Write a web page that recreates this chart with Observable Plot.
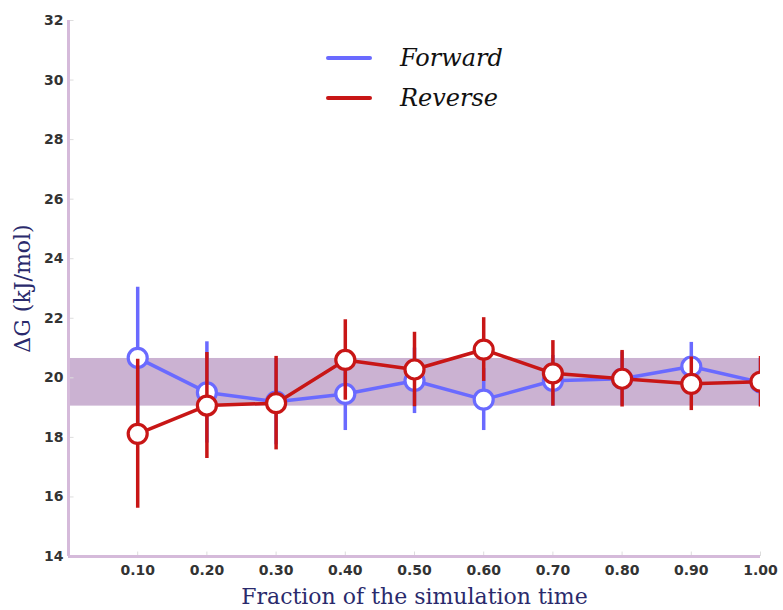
<!DOCTYPE html>
<html>
<head>
<meta charset="utf-8">
<script src="https://cdn.jsdelivr.net/npm/d3@7"></script>
<script src="https://cdn.jsdelivr.net/npm/@observablehq/plot@0.6"></script>
<style>
  html, body { margin: 0; padding: 0; background: #fff; }
  #wrap { position: relative; width: 783px; height: 610px; }
  #legend { position: absolute; left: 326px; top: 38px; font-family: "DejaVu Serif", serif; font-style: italic; font-size: 24px; color: #111; }
  .row { display: flex; align-items: center; height: 40px; }
  .sw { width: 46px; height: 4px; border-radius: 2px; margin-right: 28px; }
</style>
</head>
<body>
<div id="wrap"><div id="legend"></div></div>
<script>
const xs = [0.1, 0.2, 0.3, 0.4, 0.5, 0.6, 0.7, 0.8, 0.9, 1.0];
const fwdMean = [20.67, 19.51, 19.2, 19.46, 19.9, 19.27, 19.9, 19.97, 20.38, 19.85];
const fwdErr  = [2.37, 1.7, 1.45, 1.23, 1.1, 1.04, 0.85, 0.9, 0.81, 0.8];
const revMean = [18.12, 19.07, 19.15, 20.6, 20.28, 20.95, 20.15, 19.97, 19.8, 19.87];
const revErr  = [2.5, 1.78, 1.57, 1.35, 1.25, 1.07, 1.1, 0.95, 0.9, 0.85];
const bandLow = 19.05, bandHigh = 20.65;
const yTicks = [14, 16, 18, 20, 22, 24, 26, 28, 30, 32];
const xDomain = [0, 1.0];
const seriesNames = ["Forward", "Reverse"];
const seriesColors = ["#6a6aff", "#c81616"];

const fwd = xs.map((x, i) => ({x, y: fwdMean[i], lo: fwdMean[i] - fwdErr[i], hi: fwdMean[i] + fwdErr[i]}));
const rev = xs.map((x, i) => ({x, y: revMean[i], lo: revMean[i] - revErr[i], hi: revMean[i] + revErr[i]}));
const axisCol = "#d5bada";
const labelFont = "DejaVu Serif, serif";

function seriesMarks(data, color) {
  return [
    Plot.ruleX(data, {x: "x", y1: "lo", y2: "hi", stroke: color, strokeWidth: 3.5, clip: true}),
    Plot.line(data, {x: "x", y: "y", stroke: color, strokeWidth: 3.5, clip: true}),
    Plot.dot(data, {x: "x", y: "y", r: 9.5, fill: "white", stroke: color, strokeWidth: 3.2, clip: true})
  ];
}

const chart = Plot.plot({
  width: 783,
  height: 610,
  marginLeft: 68,
  marginRight: 23,
  marginTop: 20,
  marginBottom: 54,
  style: {background: "white", fontFamily: "DejaVu Sans, sans-serif", fontSize: "14px", fontWeight: "bold", color: "#333"},
  x: {type: "linear", domain: xDomain, ticks: xs, tickFormat: d => d.toFixed(2), tickSize: 0, tickPadding: 9, label: null},
  y: {type: "linear", domain: [yTicks[0], yTicks[yTicks.length - 1]], ticks: yTicks, tickSize: 0, tickPadding: 5, label: null},
  marks: [
    Plot.rect([{x1: xDomain[0], x2: xDomain[1], y1: bandLow, y2: bandHigh}], {x1: "x1", x2: "x2", y1: "y1", y2: "y2", fill: "#c8aed0", fillOpacity: 0.95}),
    Plot.ruleX(xs, {x: d => d, y1: yTicks[0], y2: yTicks[0] + 0.15, stroke: "#ddd", strokeWidth: 1}),
    Plot.ruleY(yTicks, {y: d => d, x1: xDomain[0], x2: xDomain[0] + 0.008, stroke: "#ddd", strokeWidth: 1}),
    ...seriesMarks(fwd, seriesColors[0]),
    ...seriesMarks(rev, seriesColors[1]),
    Plot.ruleX([xDomain[0]], {stroke: axisCol, strokeWidth: 3}),
    Plot.ruleY([yTicks[0]], {stroke: axisCol, strokeWidth: 3}),
    Plot.text(["ΔG (kJ/mol)"], {frameAnchor: "left", textAnchor: "middle", lineAnchor: "middle", rotate: -90, dx: -46, fontFamily: labelFont, fontWeight: "normal", fontSize: 22, fill: "#2a2a6c"}),
    Plot.text(["Fraction of the simulation time"], {frameAnchor: "bottom", textAnchor: "middle", lineAnchor: "middle", dy: 40, fontFamily: labelFont, fontWeight: "normal", fontSize: 22, fill: "#2a2a6c"})
  ]
});
document.getElementById("wrap").prepend(chart);

const legend = document.getElementById("legend");
seriesNames.forEach((name, i) => {
  const row = document.createElement("div");
  row.className = "row";
  const sw = document.createElement("div");
  sw.className = "sw";
  sw.style.background = seriesColors[i];
  const t = document.createElement("span");
  t.textContent = name;
  row.appendChild(sw);
  row.appendChild(t);
  legend.appendChild(row);
});
</script>
</body>
</html>
